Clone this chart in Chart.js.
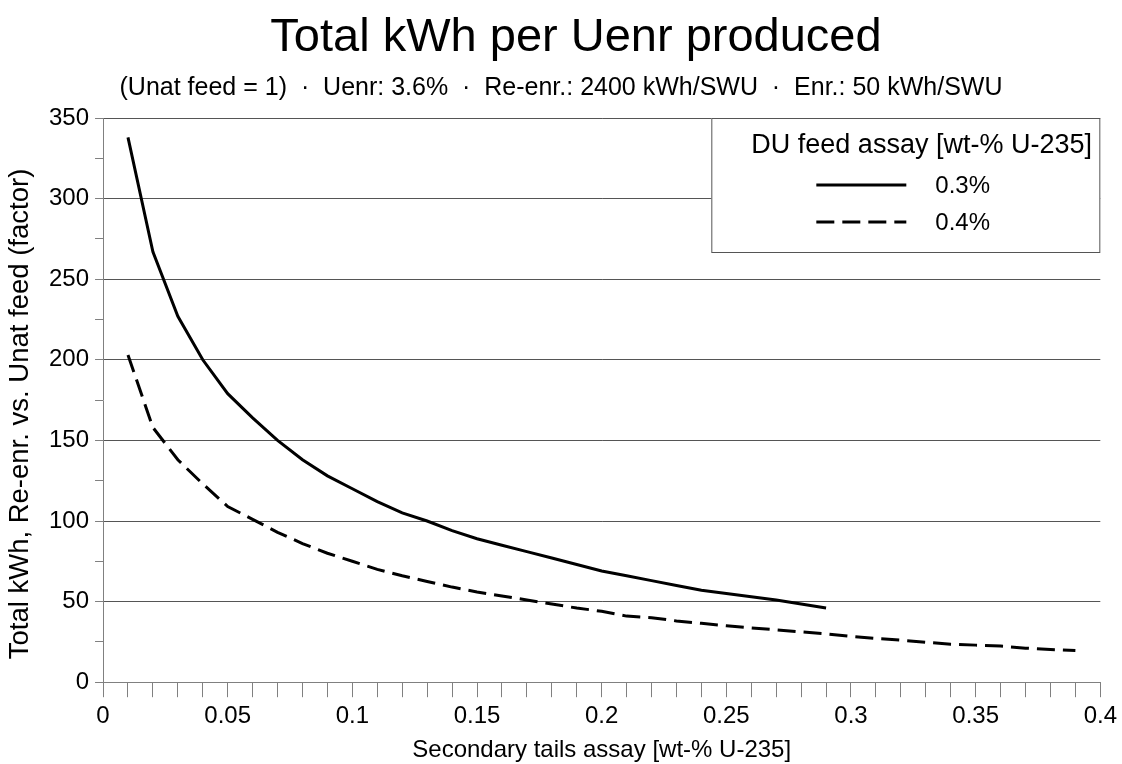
<!DOCTYPE html>
<html>
<head>
<meta charset="utf-8">
<script src="https://cdn.jsdelivr.net/npm/chart.js@4"></script>
<style>
  body { margin: 0; background: #fff; }
  #wrap { width: 1122px; height: 764px; }
</style>
</head>
<body>
<div id="wrap"><canvas id="chart" width="1122" height="764"></canvas></div>
<script>
// secondary tails assay [wt-% U-235]
const tails = [0.01, 0.02, 0.03, 0.04, 0.05, 0.06, 0.07, 0.08, 0.09, 0.10,
  0.11, 0.12, 0.13, 0.14, 0.15, 0.16, 0.17, 0.18, 0.19, 0.20,
  0.21, 0.22, 0.23, 0.24, 0.25, 0.26, 0.27, 0.28, 0.29, 0.30,
  0.31, 0.32, 0.33, 0.34, 0.35, 0.36, 0.37, 0.38, 0.39];

// DU feed 0.3% (stops at 0.29)
const feed03 = [338, 267, 227, 200, 179, 164, 150, 138, 128, 120,
  112, 105, 100, 94, 89, 85, 81, 77, 73, 69,
  66, 63, 60, 57, 55, 53, 51, 48.5, 46];

// DU feed 0.4%
const feed04 = [203, 158, 138, 123, 109, 101, 93, 86, 80, 75,
  70, 66, 62.5, 59, 56, 53.5, 51, 48.5, 46, 44,
  41, 40, 38, 36.5, 35, 33.7, 32.5, 31.2, 30, 28.4,
  27.1, 26.1, 24.8, 23.6, 23, 22.4, 21.1, 20.3, 19.6];

const seriesLabels = ['0.3%', '0.4%'];
const legendTitle = 'DU feed assay [wt-% U-235]';
const chartTitle = 'Total kWh per Uenr produced';
const chartSubtitle = '(Unat feed = 1)  \u00b7  Uenr: 3.6%  \u00b7  Re-enr.: 2400 kWh/SWU  \u00b7  Enr.: 50 kWh/SWU';
const yTitle = 'Total kWh, Re-enr. vs. Unat feed (factor)';

const FONT = "'Liberation Sans', Arial, sans-serif";

function pts(xs, ys) {
  return ys.map((y, i) => ({ x: xs[i], y: y }));
}

// title, subtitle and y title drawn by hand (reference is slightly off-centre)
const headings = {
  id: 'headings',
  afterDraw(chart) {
    const ctx = chart.ctx;
    ctx.save();
    ctx.fillStyle = '#000';
    ctx.textAlign = 'center';
    ctx.textBaseline = 'middle';
    ctx.font = '47px ' + FONT;
    ctx.fillText(chartTitle, 576, 38);
    ctx.font = '25px ' + FONT;
    ctx.fillText(chartSubtitle, 561, 88);
    ctx.translate(20, 414);
    ctx.rotate(-Math.PI / 2);
    ctx.font = '27.5px ' + FONT;
    ctx.fillText(yTitle, 0, 0);
    ctx.restore();
  }
};

// draws the boxed legend in the top right of the plot
const boxLegend = {
  id: 'boxLegend',
  afterDatasetsDraw(chart) {
    const ctx = chart.ctx;
    const a = chart.chartArea;
    const w = 389, h = 135;
    const left = a.right - w, top = a.top;
    ctx.save();
    ctx.fillStyle = '#fff';
    ctx.fillRect(left, top, w, h);
    ctx.strokeStyle = '#555';
    ctx.lineWidth = 1;
    ctx.strokeRect(left + 0.5, top + 0.5, w - 1, h - 1);
    ctx.fillStyle = '#000';
    ctx.textBaseline = 'middle';
    ctx.textAlign = 'left';
    ctx.font = '27px ' + FONT;
    ctx.fillText(legendTitle, left + 40, top + 28);
    ctx.font = '24px ' + FONT;
    chart.data.datasets.forEach((ds, i) => {
      const y = top + 67 + i * 37;
      ctx.beginPath();
      ctx.strokeStyle = ds.borderColor;
      ctx.lineWidth = 3;
      ctx.setLineDash(ds.borderDash || []);
      ctx.moveTo(left + 105, y);
      ctx.lineTo(left + 195, y);
      ctx.stroke();
      ctx.setLineDash([]);
      ctx.fillText(ds.label, left + 224, y + 1);
    });
    ctx.restore();
  }
};

new Chart(document.getElementById('chart'), {
  type: 'line',
  data: {
    datasets: [
      {
        label: seriesLabels[0],
        data: pts(tails, feed03),
        borderColor: '#000',
        borderWidth: 3,
        pointRadius: 0,
        tension: 0
      },
      {
        label: seriesLabels[1],
        data: pts(tails, feed04),
        borderColor: '#000',
        borderWidth: 3,
        borderDash: [18, 8],
        pointRadius: 0,
        tension: 0
      }
    ]
  },
  options: {
    responsive: false,
    animation: false,
    layout: { padding: { left: 43, right: 21, top: 118, bottom: 2 } },
    plugins: {
      legend: { display: false },
      tooltip: { enabled: false },
      title: { display: false },
      subtitle: { display: false }
    },
    scales: {
      x: {
        type: 'linear',
        min: 0,
        max: 0.4,
        border: { color: '#808080', width: 1 },
        grid: {
          drawOnChartArea: false,
          drawTicks: true,
          tickLength: 15,
          tickColor: '#808080'
        },
        ticks: {
          stepSize: 0.01,
          autoSkip: false,
          maxRotation: 0,
          color: '#000',
          font: { family: FONT, size: 24 },
          padding: 5,
          callback: (v) => {
            const c = Math.round(v * 100);
            return c % 5 === 0 ? String(c / 100) : '';
          }
        },
        title: {
          display: true,
          text: 'Secondary tails assay [wt-% U-235]',
          color: '#000',
          font: { family: FONT, size: 24, lineHeight: 1.0 },
          padding: { top: 2, bottom: 0 }
        }
      },
      y: {
        min: 0,
        max: 350,
        border: { color: '#808080', width: 1 },
        grid: {
          drawTicks: true,
          tickLength: 8,
          color: (c) => (c.tick && c.tick.value % 50 === 0) ? '#555' : 'rgba(0,0,0,0)',
          tickColor: '#808080'
        },
        ticks: {
          stepSize: 25,
          autoSkip: false,
          color: '#000',
          font: { family: FONT, size: 24 },
          padding: 6,
          callback: (v) => v % 50 === 0 ? String(v) : ''
        }
      }
    }
  },
  plugins: [boxLegend, headings]
});
</script>
</body>
</html>
